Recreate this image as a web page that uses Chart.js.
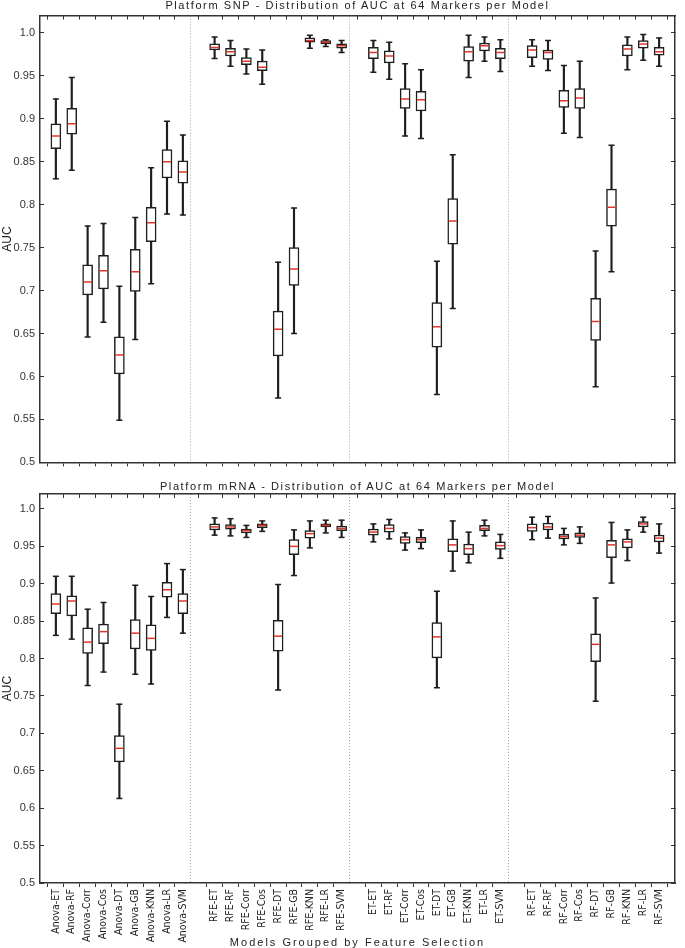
<!DOCTYPE html>
<html>
<head>
<meta charset="utf-8">
<script src="https://cdn.jsdelivr.net/npm/chart.js@4.4.1/dist/chart.umd.min.js"></script>
<style>
  html, body { margin: 0; padding: 0; background: #fff; }
  #wrap { position: relative; width: 685px; height: 948px; overflow: hidden; }
  .panel { position: absolute; left: 0; width: 685px; }
  .txt {
    position: absolute; left: 40px; width: 635px; text-align: center;
    font-family: "Liberation Sans", Arial, sans-serif; font-size: 11px;
    letter-spacing: 1.6px; color: #222; line-height: 12px; z-index: 2;
  }
</style>
</head>
<body>
<div id="wrap">
  <div class="panel" style="top:0;height:478px"><canvas id="snp-chart"></canvas></div>
  <div class="panel" style="top:478px;height:470px"><canvas id="mrna-chart"></canvas></div>
  <div class="txt" style="top:-1px">Platform SNP - Distribution of AUC at 64 Markers per Model</div>
  <div class="txt" style="top:480px">Platform mRNA - Distribution of AUC at 64 Markers per Model</div>
  <div class="txt" style="top:936px;letter-spacing:2px">Models Grouped by Feature Selection</div>
</div>
<script>
// Feature selection groups and models (each group is 9 boxes)
const groups = ["Anova", "RFE", "ET", "RF"];
const models = ["ET", "RF", "Corr", "Cos", "DT", "GB", "KNN", "LR", "SVM"];
const yTicks = [0.5, 0.55, 0.6, 0.65, 0.7, 0.75, 0.8, 0.85, 0.9, 0.95, 1.0];

// Platform SNP - five-number summaries
const snpMax = [0.923, 0.948, 0.775, 0.778, 0.705, 0.785, 0.843, 0.897, 0.881,
  0.995, 0.991, 0.981, 0.980, 0.733, 0.796, 0.997, 0.992, 0.991,
  0.991, 0.989, 0.964, 0.957, 0.734, 0.858, 0.997, 0.995, 0.992,
  0.992, 0.991, 0.962, 0.967, 0.746, 0.869, 0.995, 0.998, 0.994];
const snpQ3 = [0.894, 0.912, 0.730, 0.741, 0.646, 0.748, 0.797, 0.864, 0.851,
  0.987, 0.982, 0.971, 0.967, 0.676, 0.750, 0.994, 0.991, 0.987,
  0.983, 0.979, 0.935, 0.932, 0.686, 0.807, 0.984, 0.988, 0.982,
  0.985, 0.980, 0.933, 0.935, 0.691, 0.818, 0.986, 0.991, 0.983];
const snpMed = [0.880, 0.894, 0.710, 0.723, 0.625, 0.722, 0.779, 0.850, 0.838,
  0.983, 0.978, 0.967, 0.960, 0.655, 0.725, 0.991, 0.989, 0.985,
  0.977, 0.973, 0.923, 0.922, 0.658, 0.781, 0.978, 0.985, 0.977,
  0.980, 0.977, 0.921, 0.924, 0.664, 0.797, 0.981, 0.987, 0.978];
const snpQ1 = [0.865, 0.882, 0.695, 0.702, 0.603, 0.699, 0.757, 0.831, 0.825,
  0.980, 0.973, 0.963, 0.956, 0.624, 0.706, 0.989, 0.987, 0.982,
  0.970, 0.965, 0.912, 0.909, 0.634, 0.754, 0.967, 0.979, 0.970,
  0.971, 0.969, 0.913, 0.912, 0.642, 0.775, 0.973, 0.982, 0.974];
const snpMin = [0.830, 0.840, 0.646, 0.663, 0.549, 0.643, 0.708, 0.789, 0.788,
  0.970, 0.961, 0.952, 0.940, 0.575, 0.650, 0.982, 0.984, 0.977,
  0.954, 0.946, 0.880, 0.877, 0.579, 0.679, 0.948, 0.967, 0.955,
  0.961, 0.956, 0.883, 0.878, 0.588, 0.722, 0.957, 0.968, 0.961];

// Platform mRNA - five-number summaries
const mrnaMax = [0.910, 0.910, 0.866, 0.875, 0.739, 0.898, 0.883, 0.927, 0.919,
  0.988, 0.987, 0.978, 0.984, 0.899, 0.972, 0.984, 0.985, 0.985,
  0.980, 0.986, 0.968, 0.972, 0.890, 0.984, 0.969, 0.985, 0.966,
  0.989, 0.990, 0.974, 0.976, 0.881, 0.982, 0.972, 0.989, 0.980];
const mrnaQ3 = [0.887, 0.884, 0.841, 0.846, 0.697, 0.852, 0.845, 0.902, 0.887,
  0.980, 0.979, 0.973, 0.980, 0.851, 0.959, 0.971, 0.980, 0.977,
  0.973, 0.979, 0.963, 0.962, 0.848, 0.960, 0.953, 0.978, 0.956,
  0.980, 0.981, 0.966, 0.968, 0.833, 0.958, 0.960, 0.983, 0.965];
const mrnaMed = [0.873, 0.877, 0.822, 0.836, 0.680, 0.834, 0.827, 0.892, 0.877,
  0.976, 0.976, 0.971, 0.978, 0.830, 0.950, 0.967, 0.978, 0.974,
  0.969, 0.974, 0.959, 0.959, 0.829, 0.952, 0.947, 0.974, 0.951,
  0.975, 0.976, 0.963, 0.965, 0.819, 0.952, 0.956, 0.980, 0.961];
const mrnaQ1 = [0.860, 0.857, 0.807, 0.820, 0.662, 0.813, 0.811, 0.882, 0.860,
  0.972, 0.973, 0.968, 0.975, 0.810, 0.939, 0.961, 0.976, 0.971,
  0.965, 0.969, 0.954, 0.955, 0.801, 0.943, 0.939, 0.971, 0.946,
  0.970, 0.972, 0.960, 0.962, 0.796, 0.935, 0.948, 0.976, 0.956];
const mrnaMin = [0.831, 0.826, 0.764, 0.782, 0.613, 0.779, 0.766, 0.855, 0.834,
  0.965, 0.964, 0.962, 0.970, 0.758, 0.911, 0.948, 0.968, 0.962,
  0.956, 0.960, 0.945, 0.947, 0.761, 0.917, 0.928, 0.964, 0.934,
  0.959, 0.961, 0.952, 0.954, 0.743, 0.901, 0.931, 0.969, 0.941];

// Build labels; one empty slot between groups holds the dotted divider
const labels = [];
groups.forEach((g) => models.forEach((m) => labels.push(g + "-" + m)));
const xPos = labels.map((_, i) => i + 1 + Math.floor(i / models.length));
const dividers = groups.slice(1).map((_, i) => (i + 1) * (models.length + 1));
const bottomTicks = xPos.concat(dividers).sort((a, b) => a - b);

const INK = "#1e1e1e";
const FRAME = "#333";
const MEDIAN = "#e2352b";
const FONT = "'Liberation Sans', Arial, sans-serif";
const NARROW = "'DejaVu Sans Condensed', 'Liberation Sans Narrow', 'Liberation Sans', sans-serif";

function boxDatasets(min, q1, med, q3, max) {
  return [
    {
      // whisker stem
      type: "bar",
      data: xPos.map((x, i) => ({ x: x, y: [min[i], max[i]] })),
      backgroundColor: INK,
      borderWidth: 0,
      barThickness: 1.5,
      grouped: false,
      order: 3,
    },
    {
      // interquartile box
      type: "bar",
      data: xPos.map((x, i) => ({ x: x, y: [q1[i], q3[i]] })),
      backgroundColor: "#fff",
      borderColor: INK,
      borderWidth: 1.5,
      borderSkipped: false,
      barThickness: 10,
      grouped: false,
      order: 2,
    },
    {
      // whisker caps
      type: "scatter",
      data: xPos.flatMap((x, i) => [{ x: x, y: min[i] }, { x: x, y: max[i] }]),
      pointStyle: "line",
      pointRadius: 3,
      borderColor: INK,
      borderWidth: 1.5,
      order: 1,
    },
    {
      // medians
      type: "scatter",
      data: xPos.map((x, i) => ({ x: x, y: med[i] })),
      pointStyle: "line",
      pointRadius: 4,
      borderColor: MEDIAN,
      borderWidth: 1.5,
      order: 0,
    },
  ];
}

function makeChart(canvasId, datasets, showLabels) {
  const ctx = document.getElementById(canvasId).getContext("2d");
  return new Chart(ctx, {
    type: "bar",
    data: { datasets: datasets },
    options: {
      responsive: true,
      maintainAspectRatio: false,
      animation: false,
      layout: { padding: { top: showLabels ? 16 : 13, right: 10, left: 0, bottom: 0 } },
      plugins: { legend: { display: false }, tooltip: { enabled: false } },
      scales: {
        x: {
          type: "linear",
          position: "bottom",
          min: 0,
          max: 40,
          offset: false,
          afterBuildTicks: (s) => { s.ticks = bottomTicks.map((v) => ({ value: v })); },
          afterFit: (s) => { s.height = showLabels ? 65 : 5; },
          // border.dash is used for the grid lines (dotted dividers)
          border: { color: FRAME, width: 1.5, dash: [1, 2] },
          grid: {
            drawOnChartArea: true,
            color: (c) => (c.tick && dividers.includes(c.tick.value) ? "#a8a8a8" : "rgba(0,0,0,0)"),
            tickColor: (c) => (c.tick && dividers.includes(c.tick.value) ? "rgba(0,0,0,0)" : FRAME),
            lineWidth: 1,
            tickLength: 4,
          },
          ticks: {
            display: showLabels,
            autoSkip: false,
            minRotation: 90,
            maxRotation: 90,
            padding: 2,
            color: "#222",
            font: { family: NARROW, size: 10.5 },
            callback: (v) => {
              const i = xPos.indexOf(v);
              return i >= 0 ? labels[i] : "";
            },
          },
        },
        x2: {
          type: "linear",
          position: "top",
          min: 0,
          max: 40,
          offset: false,
          afterBuildTicks: (s) => { s.ticks = xPos.map((v) => ({ value: v })); },
          afterFit: (s) => { s.height = 0; },
          border: { color: FRAME, width: 1.5 },
          grid: { drawOnChartArea: false, color: FRAME, tickLength: -4 },
          ticks: { display: false },
        },
        y: {
          position: "left",
          min: 0.5,
          max: 1.02,
          afterBuildTicks: (s) => { s.ticks = yTicks.map((v) => ({ value: v })); },
          afterFit: (s) => { s.width = 40; },
          border: { color: FRAME, width: 1.5 },
          grid: { drawOnChartArea: false, color: FRAME, tickLength: -4 },
          ticks: {
            padding: 9,
            color: "#333",
            font: { family: FONT, size: 11 },
            callback: (v) => (v === 1 ? "1.0" : String(+v.toFixed(2))),
          },
          title: {
            display: true,
            text: "AUC",
            color: "#222",
            padding: { top: 0, bottom: 0 },
            font: { family: FONT, size: 12 },
          },
        },
        y2: {
          position: "right",
          min: 0.5,
          max: 1.02,
          afterBuildTicks: (s) => { s.ticks = yTicks.map((v) => ({ value: v })); },
          afterFit: (s) => { s.width = 0; },
          border: { color: FRAME, width: 1.5 },
          grid: { drawOnChartArea: false, color: FRAME, tickLength: -4 },
          ticks: { display: false },
        },
      },
    },
  });
}

makeChart("snp-chart", boxDatasets(snpMin, snpQ1, snpMed, snpQ3, snpMax), false);
makeChart("mrna-chart", boxDatasets(mrnaMin, mrnaQ1, mrnaMed, mrnaQ3, mrnaMax), true);
</script>
</body>
</html>
